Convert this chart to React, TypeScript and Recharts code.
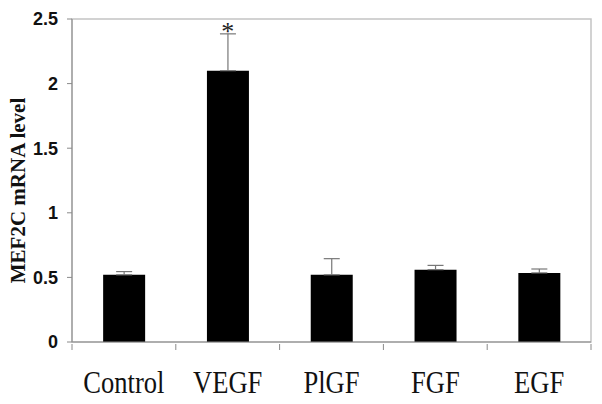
import React from 'react';
import { ComposedChart, Bar, Scatter, ErrorBar, XAxis, YAxis, ReferenceArea } from 'recharts';

const categories = ['Control', 'VEGF', 'PlGF', 'FGF', 'EGF'];
const mRNALevel = [0.52, 2.1, 0.52, 0.56, 0.535];
const errUpper = [0.025, 0.285, 0.125, 0.033, 0.03];
const significance = ['', '*', '', '', ''];
const yTicks = [0, 0.5, 1, 1.5, 2, 2.5];

const data = categories.map((name, i) => ({
  name,
  value: mRNALevel[i],
  err: [0, errUpper[i]],
  star: significance[i] ? mRNALevel[i] + errUpper[i] : null,
  sig: significance[i],
}));

const W = 602;
const H = 404;
const M = { top: 19, right: 11, bottom: 0, left: 0 };
const Y_W = 72;
const X_H = 62;
// width of one category band, used to put the tick marks between categories
const BAND = (W - M.left - M.right - Y_W) / categories.length;

const AXIS = '#8a8a8a';
const SERIF = "'Liberation Serif', 'Times New Roman', serif";

const CategoryTick = (props: any) => {
  const { x, y, payload, index, visibleTicksCount } = props;
  const isLast = index === visibleTicksCount - 1;
  return (
    <g>
      <line x1={x - BAND / 2} x2={x - BAND / 2} y1={y} y2={y + 6} stroke={AXIS} />
      {isLast && <line x1={x + BAND / 2} x2={x + BAND / 2} y1={y} y2={y + 6} stroke={AXIS} />}
      {/* the original labels are tall and a little condensed */}
      <text
        transform={`translate(${x}, ${y + 49}) scale(0.83, 1)`}
        textAnchor="middle"
        fill="#111"
        style={{ fontSize: 32, fontFamily: SERIF }}
      >
        {payload.value}
      </text>
    </g>
  );
};

const StarMark = (props: any) => {
  const { cx, cy, payload } = props;
  if (cx == null || cy == null || !payload.sig) return null;
  return (
    <text x={cx} y={cy + 6} textAnchor="middle" fill="#222" style={{ fontSize: 26, fontFamily: SERIF }}>
      {payload.sig}
    </text>
  );
};

export default function App() {
  return (
    <div style={{ position: 'absolute', left: 0, top: 0, width: W, height: H, background: '#fff' }}>
      <ComposedChart width={W} height={H} data={data} margin={M} barCategoryGap="30%">
        <XAxis
          dataKey="name"
          height={X_H}
          axisLine={{ stroke: AXIS }}
          tickLine={false}
          tickSize={0}
          interval={0}
          tick={CategoryTick}
        />
        <YAxis
          width={Y_W}
          domain={[0, 2.5]}
          ticks={yTicks}
          axisLine={{ stroke: AXIS }}
          tickLine={{ stroke: AXIS }}
          tickSize={5}
          tickMargin={9}
          tick={{ fill: '#111', fontSize: 18, fontWeight: 'bold', fontFamily: "'Liberation Sans', Arial, sans-serif" }}
          label={{
            value: 'MEF2C mRNA level',
            angle: -90,
            position: 'center',
            dx: -18,
            dy: 10,
            style: { fill: '#111', fontSize: 21, fontWeight: 'bold', fontFamily: SERIF },
          }}
        />
        <ReferenceArea y1={0} y2={2.5} fill="none" stroke="#c4c4c4" strokeWidth={1.5} ifOverflow="visible" />
        <Bar dataKey="value" fill="#000" isAnimationActive={false}>
          <ErrorBar dataKey="err" width={8} stroke="#777" strokeWidth={1.2} direction="y" />
        </Bar>
        <Scatter dataKey="star" shape={StarMark} isAnimationActive={false} />
      </ComposedChart>
    </div>
  );
}
